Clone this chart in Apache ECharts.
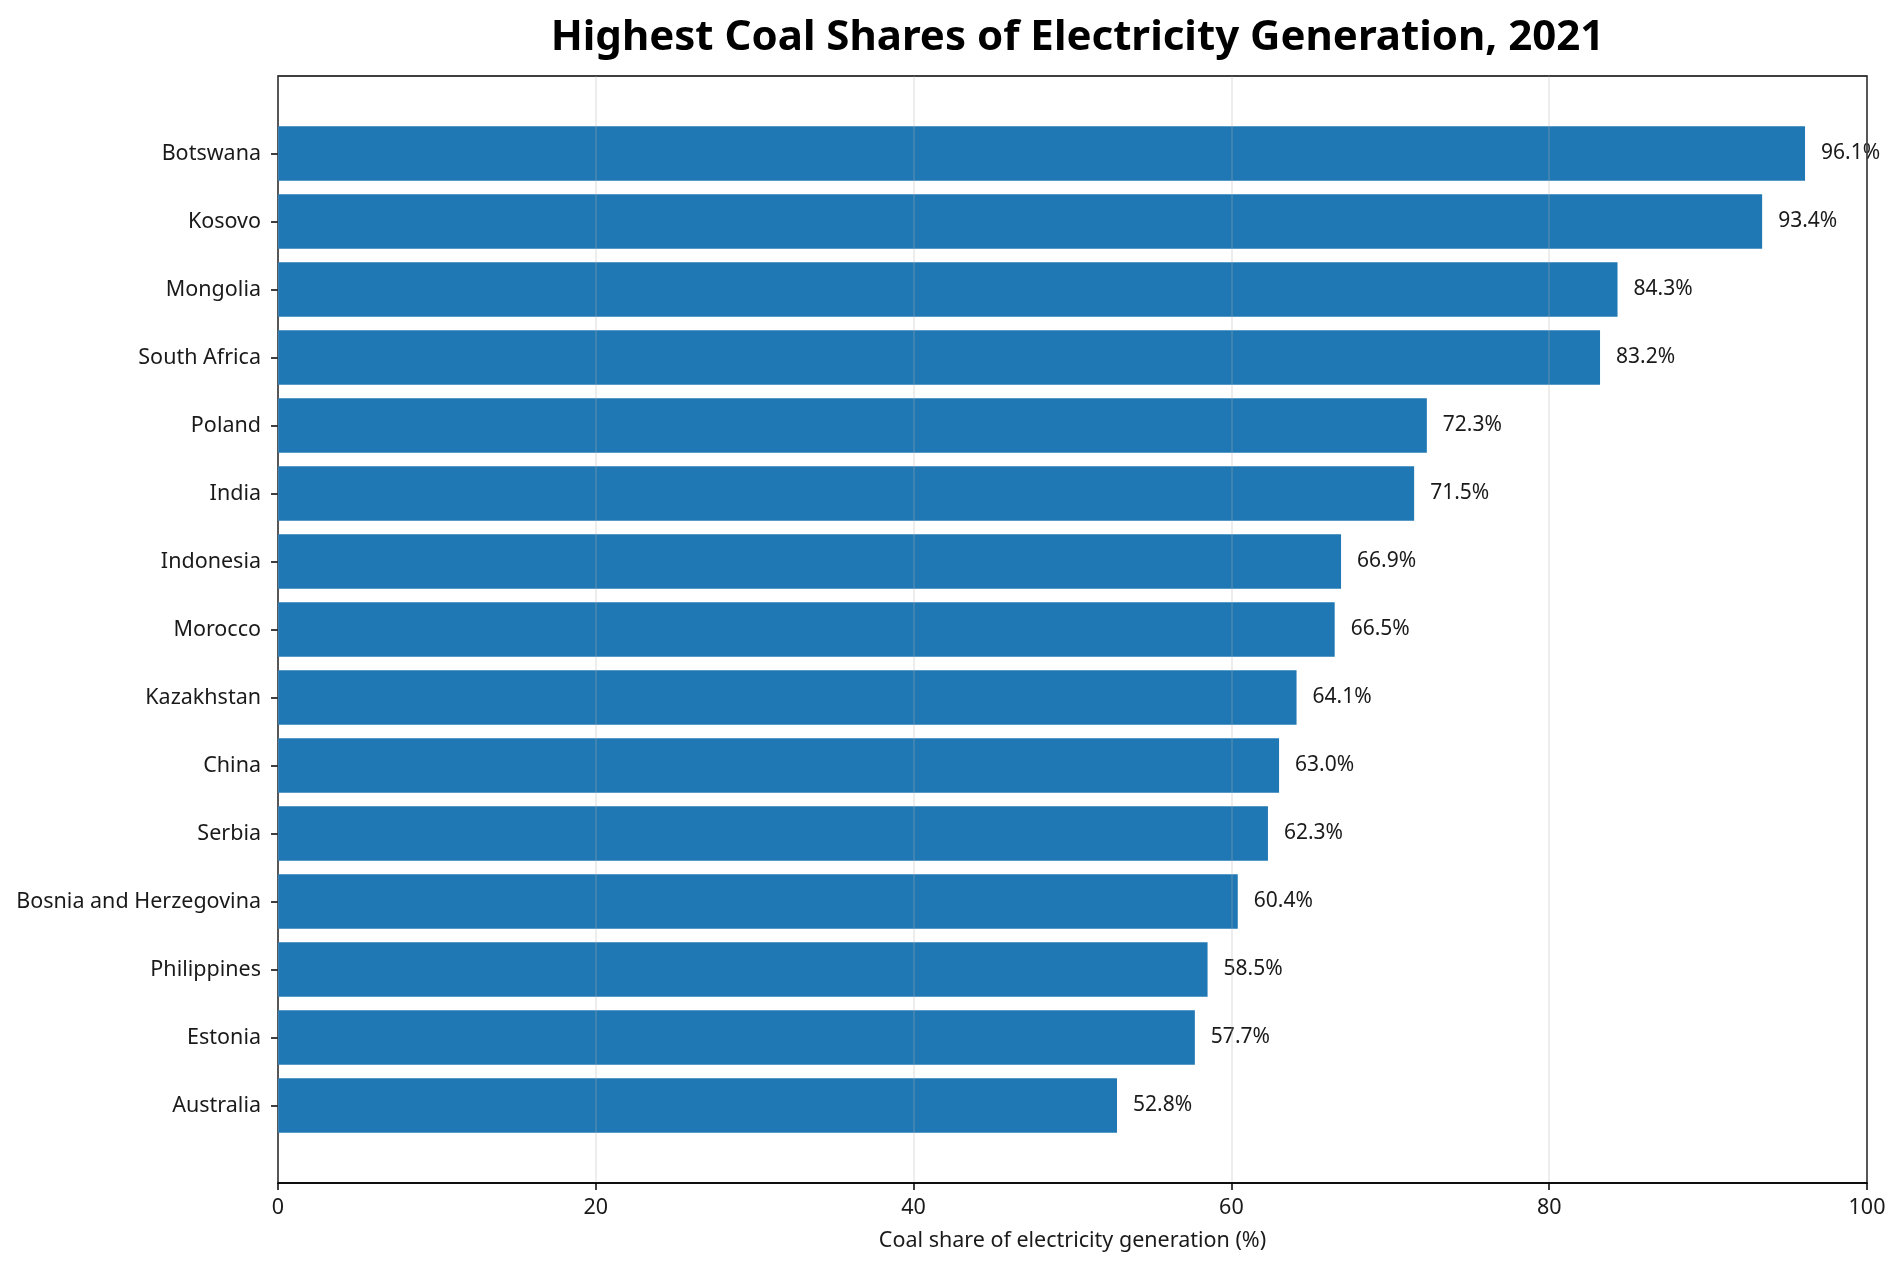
<!DOCTYPE html>
<html>
<head>
<meta charset="utf-8">
<script src="https://cdn.jsdelivr.net/npm/echarts@6/dist/echarts.min.js"></script>
<style>
html,body{margin:0;padding:0;background:#fff;}
#chart{width:1903px;height:1263px;}
</style>
</head>
<body>
<div id="chart"></div>
<script>
// data, top to bottom
var countries = ['Botswana', 'Kosovo', 'Mongolia', 'South Africa', 'Poland', 'India',
	'Indonesia', 'Morocco', 'Kazakhstan', 'China', 'Serbia', 'Bosnia and Herzegovina',
	'Philippines', 'Estonia', 'Australia'];
var coalShare = [96.1, 93.4, 84.3, 83.2, 72.3, 71.5, 66.9, 66.5, 64.1, 63.0, 62.3, 60.4, 58.5, 57.7, 52.8];
var xTicks = [0, 20, 40, 60, 80, 100];

var FONT = '"Noto Sans", "Open Sans", sans-serif';

var chart = echarts.init(document.getElementById('chart'));

//外框网格和内部柱状网格
var frame = {left: 278, right: 36, top: 76, bottom: 80};
var pad = (1263 - frame.top - frame.bottom - countries.length * 68) / 2;
var plotCenter = frame.left + (1903 - frame.left - frame.right) / 2;

var option = {
	animation: false,
	backgroundColor: '#fff',
	title: {
		text: 'Highest Coal Shares of Electricity Generation, 2021',
		left: plotCenter,
		textAlign: 'center',
		top: 12,
		textStyle: {fontFamily: FONT, fontSize: 42, fontWeight: 'bold', color: '#000'}
	},
	grid: [{
		left: frame.left, right: frame.right, top: frame.top, bottom: frame.bottom,
		show: true, borderColor: '#000', borderWidth: 1.5, backgroundColor: 'transparent'
	}, {
		left: frame.left, right: frame.right, top: frame.top + pad, bottom: frame.bottom + pad
	}],
	xAxis: [{
		gridIndex: 0,
		type: 'value',
		min: xTicks[0],
		max: xTicks[xTicks.length - 1],
		interval: 20,
		z: 3,
		name: 'Coal share of electricity generation (%)',
		nameLocation: 'middle',
		nameGap: 47,
		nameTextStyle: {fontFamily: FONT, fontSize: 21.5, color: '#1a1a1a'},
		axisLine: {show: true, lineStyle: {color: '#000', width: 1.5}},
		axisTick: {show: true, length: 7, lineStyle: {color: '#000', width: 1.5}},
		axisLabel: {fontFamily: FONT, fontSize: 21.5, color: '#1a1a1a', margin: 14},
		splitLine: {show: true, lineStyle: {color: 'rgba(176,176,176,0.3)', width: 1.5}}
	}, {
		gridIndex: 1,
		type: 'value',
		min: 0,
		max: 100,
		show: false
	}],
	yAxis: [{
		gridIndex: 0,
		type: 'value',
		show: false
	}, {
		gridIndex: 1,
		type: 'category',
		inverse: true,
		data: countries,
		axisLine: {show: false},
		axisTick: {show: true, alignWithLabel: true, length: 7, lineStyle: {color: '#000', width: 1.5}},
		axisLabel: {fontFamily: FONT, fontSize: 21.5, color: '#1a1a1a', margin: 17},
		splitLine: {show: false}
	}],
	series: [{
		type: 'bar',
		xAxisIndex: 1,
		yAxisIndex: 1,
		data: coalShare,
		barWidth: '80%',
		itemStyle: {color: '#1f77b4'},
		label: {
			show: true,
			position: 'right',
			distance: 16,
			fontFamily: FONT,
			fontSize: 21,
			color: '#1a1a1a',
			formatter: function(p) {
				return p.value.toFixed(1) + '%';
			}
		}
	}]
};

chart.setOption(option);
</script>
</body>
</html>
